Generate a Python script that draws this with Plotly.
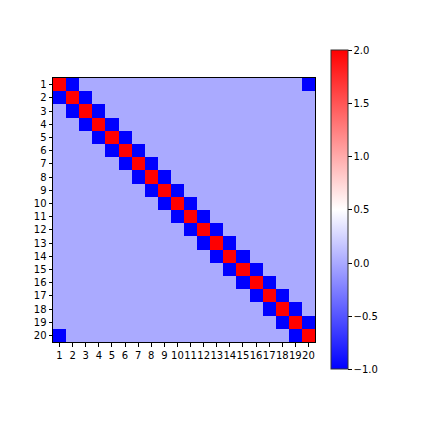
import plotly.graph_objects as go

labels = [str(i) for i in range(1, 21)]

matrix = [
    [2, -1, 0, 0, 0, 0, 0, 0, 0, 0, 0, 0, 0, 0, 0, 0, 0, 0, 0, -1],
    [-1, 2, -1, 0, 0, 0, 0, 0, 0, 0, 0, 0, 0, 0, 0, 0, 0, 0, 0, 0],
    [0, -1, 2, -1, 0, 0, 0, 0, 0, 0, 0, 0, 0, 0, 0, 0, 0, 0, 0, 0],
    [0, 0, -1, 2, -1, 0, 0, 0, 0, 0, 0, 0, 0, 0, 0, 0, 0, 0, 0, 0],
    [0, 0, 0, -1, 2, -1, 0, 0, 0, 0, 0, 0, 0, 0, 0, 0, 0, 0, 0, 0],
    [0, 0, 0, 0, -1, 2, -1, 0, 0, 0, 0, 0, 0, 0, 0, 0, 0, 0, 0, 0],
    [0, 0, 0, 0, 0, -1, 2, -1, 0, 0, 0, 0, 0, 0, 0, 0, 0, 0, 0, 0],
    [0, 0, 0, 0, 0, 0, -1, 2, -1, 0, 0, 0, 0, 0, 0, 0, 0, 0, 0, 0],
    [0, 0, 0, 0, 0, 0, 0, -1, 2, -1, 0, 0, 0, 0, 0, 0, 0, 0, 0, 0],
    [0, 0, 0, 0, 0, 0, 0, 0, -1, 2, -1, 0, 0, 0, 0, 0, 0, 0, 0, 0],
    [0, 0, 0, 0, 0, 0, 0, 0, 0, -1, 2, -1, 0, 0, 0, 0, 0, 0, 0, 0],
    [0, 0, 0, 0, 0, 0, 0, 0, 0, 0, -1, 2, -1, 0, 0, 0, 0, 0, 0, 0],
    [0, 0, 0, 0, 0, 0, 0, 0, 0, 0, 0, -1, 2, -1, 0, 0, 0, 0, 0, 0],
    [0, 0, 0, 0, 0, 0, 0, 0, 0, 0, 0, 0, -1, 2, -1, 0, 0, 0, 0, 0],
    [0, 0, 0, 0, 0, 0, 0, 0, 0, 0, 0, 0, 0, -1, 2, -1, 0, 0, 0, 0],
    [0, 0, 0, 0, 0, 0, 0, 0, 0, 0, 0, 0, 0, 0, -1, 2, -1, 0, 0, 0],
    [0, 0, 0, 0, 0, 0, 0, 0, 0, 0, 0, 0, 0, 0, 0, -1, 2, -1, 0, 0],
    [0, 0, 0, 0, 0, 0, 0, 0, 0, 0, 0, 0, 0, 0, 0, 0, -1, 2, -1, 0],
    [0, 0, 0, 0, 0, 0, 0, 0, 0, 0, 0, 0, 0, 0, 0, 0, 0, -1, 2, -1],
    [-1, 0, 0, 0, 0, 0, 0, 0, 0, 0, 0, 0, 0, 0, 0, 0, 0, 0, -1, 2],
]

cbar_ticks = [-1.0, -0.5, 0.0, 0.5, 1.0, 1.5, 2.0]

# page body has an 8px default margin; shift everything accordingly
OFF = 8
W, H = 423 - OFF, 423 - OFF
L, R, T, B = 52.7 - OFF, 315.0 - OFF, 78.3 - OFF, 341.7 - OFF
pw, ph = R - L, B - T
cb_left, cb_top, cb_bottom = 331.0 - OFF, 50.7 - OFF, 370.0 - OFF

fig = go.Figure(
    go.Heatmap(
        z=matrix,
        x=labels,
        y=labels,
        zmin=-1,
        zmax=2,
        colorscale=[[0, "rgb(0,0,255)"], [0.5, "rgb(255,255,255)"], [1, "rgb(255,0,0)"]],
        hoverongaps=False,
        colorbar=dict(
            x=(cb_left - L) / pw,
            xanchor="left",
            xpad=0,
            y=(B - cb_top) / ph,
            yanchor="top",
            ypad=0,
            len=cb_bottom - cb_top,
            lenmode="pixels",
            thickness=17,
            thicknessmode="pixels",
            outlinecolor="#333333",
            outlinewidth=1,
            tickmode="array",
            tickvals=cbar_ticks,
            ticktext=[f"{v:.1f}".replace("-", "\u2212") for v in cbar_ticks],
            ticks="outside",
            ticklen=3.5,
            tickcolor="black",
            tickfont=dict(size=10, color="black", family="DejaVu Sans"),
        ),
    )
)

axis_common = dict(
    showline=True,
    linecolor="black",
    linewidth=1,
    mirror=True,
    ticks="outside",
    ticklen=3.5,
    tickcolor="black",
    tickfont=dict(size=10, color="black", family="DejaVu Sans"),
    showgrid=False,
    zeroline=False,
    tickangle=0,
)

fig.update_xaxes(type="category", tickmode="array", tickvals=labels, ticktext=labels,
                 constrain="domain", **axis_common)
fig.update_yaxes(type="category", tickmode="array", tickvals=labels, ticktext=labels,
                 autorange="reversed", **axis_common)

fig.update_layout(
    width=W,
    height=H,
    margin=dict(l=L, r=W - R, t=T, b=H - B, pad=0),
    paper_bgcolor="white",
    plot_bgcolor="white",
    font=dict(family="DejaVu Sans", size=10, color="black"),
)

fig.write_html("out.html")
